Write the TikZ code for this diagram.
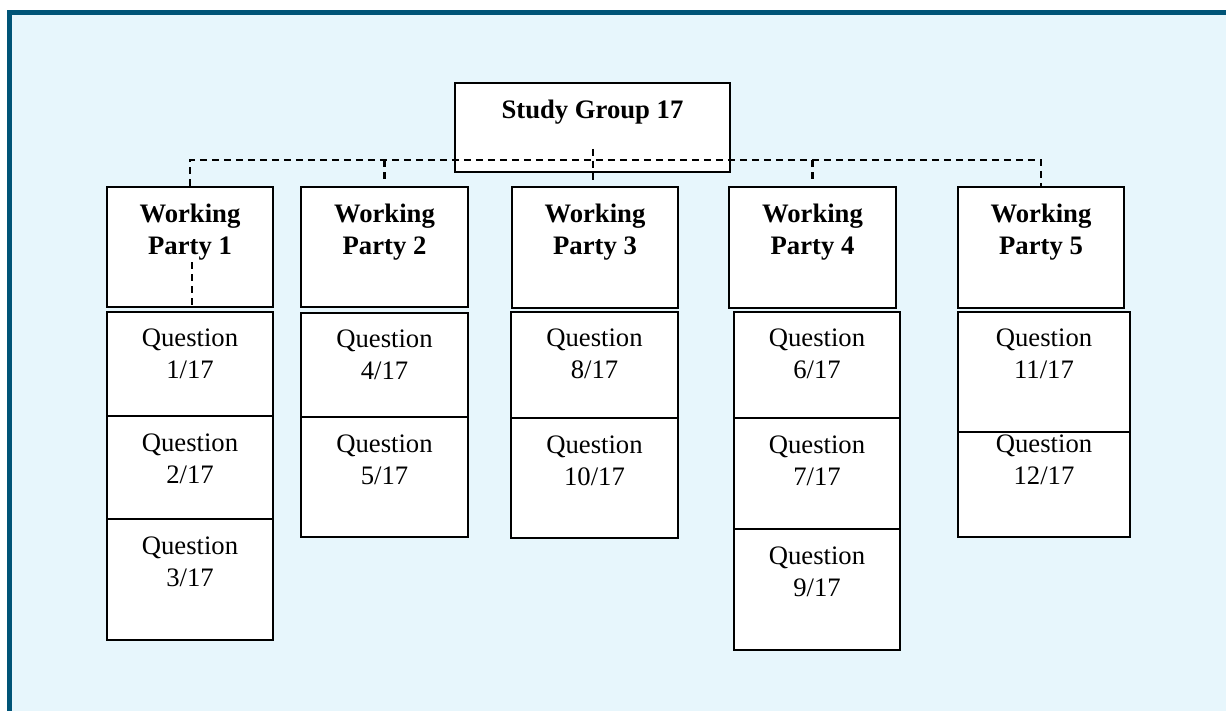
\documentclass[tikz,border=0pt]{standalone}
\usepackage{fontspec}
\setmainfont{Liberation Serif}
\usetikzlibrary{calc}
\definecolor{bordercol}{RGB}{0,84,119}
\definecolor{bgcol}{RGB}{231,246,252}
\begin{document}
\begin{tikzpicture}[x=0.75pt,y=-0.75pt,
  box/.style={draw=black, line width=1.4pt, fill=white, inner sep=0pt},
  txt/.style={font=\fontsize{20}{24}\selectfont, align=center, anchor=north, inner sep=0pt, yshift=-13.5pt},
  btxt/.style={txt, font=\fontsize{20}{24}\selectfont\bfseries},
  dashline/.style={line width=1.6pt, dash pattern=on 5.25pt off 3.75pt}]
\useasboundingbox (0,0) rectangle (1226,711);
\fill[white] (0,0) rectangle (1226,711);
\fill[bordercol] (7,10) rectangle (1226,711);
\fill[bgcol] (12,15) rectangle (1226,711);

% Study group
\node[box, minimum width=206.25pt, minimum height=66.75pt, label={[btxt]north:{Study Group 17}}] (sg) at (592.5,127.5) {};

% Working parties
\node[box, minimum width=124.5pt, minimum height=90pt, label={[btxt]north:{Working\\Party 1}}] (wp1) at (190,247) {};
\node[box, minimum width=125.25pt, minimum height=90pt, label={[btxt]north:{Working\\Party 2}}] (wp2) at (384.5,247) {};
\node[box, minimum width=124.5pt, minimum height=90.75pt, label={[btxt]north:{Working\\Party 3}}] (wp3) at (595,247.5) {};
\node[box, minimum width=125.25pt, minimum height=90.75pt, label={[btxt]north:{Working\\Party 4}}] (wp4) at (812.5,247.5) {};
\node[box, minimum width=124.5pt, minimum height=90.75pt, label={[btxt]north:{Working\\Party 5}}] (wp5) at (1041,247.5) {};

% Questions WP1
\node[box, minimum width=124.5pt, minimum height=78pt, label={[txt]north:{Question\\1/17}}] (q1) at (190,364) {};
\node[box, minimum width=124.5pt, minimum height=77.25pt, label={[txt]north:{Question\\2/17}}] (q2) at (190,467.5) {};
\node[box, minimum width=124.5pt, minimum height=90.75pt, label={[txt]north:{Question\\3/17}}] (q3) at (190,579.5) {};
% WP2
\node[box, minimum width=125.25pt, minimum height=78pt, label={[txt]north:{Question\\4/17}}] (q4) at (384.5,365) {};
\node[box, minimum width=125.25pt, minimum height=90pt, label={[txt]north:{Question\\5/17}}] (q5) at (384.5,477) {};
% WP3
\node[box, minimum width=125.25pt, minimum height=79.5pt, label={[txt]north:{Question\\8/17}}] (q8) at (594.5,365) {};
\node[box, minimum width=125.25pt, minimum height=90pt, label={[txt]north:{Question\\10/17}}] (q10) at (594.5,478) {};
% WP4
\node[box, minimum width=124.5pt, minimum height=79.5pt, label={[txt]north:{Question\\6/17}}] (q6) at (817,365) {};
\node[box, minimum width=124.5pt, minimum height=83.25pt, label={[txt]north:{Question\\7/17}}] (q7) at (817,473.5) {};
\node[box, minimum width=124.5pt, minimum height=90.75pt, label={[txt]north:{Question\\9/17}}] (q9) at (817,589.5) {};
% WP5
\node[box, minimum width=129pt, minimum height=90pt, label={[txt]north:{Question\\12/17}}] (q12) at (1044,477) {};
\node[box, minimum width=129pt, minimum height=90pt, label={[txt]north:{Question\\11/17}}] (q11) at (1044,372) {};

% Dashed connectors
\coordinate (bus) at (600,160);
\draw[dashline] (wp1.north) |- (bus) -| (wp5.north);
\draw[dashline] (bus -| wp2.north) -- ([yshift=3.75pt]wp2.north);
\draw[dashline] (bus -| wp4.north) -- ([yshift=3.75pt]wp4.north);
\draw[dashline] ($(sg.south -| wp3.north)+(-2,-24)$) -- ($(wp3.north)+(-2,-4)$);
\draw[dashline] ($(wp1.center)+(2,15)$) -- ($(q1.north)+(2,-2)$);
\end{tikzpicture}
\end{document}
